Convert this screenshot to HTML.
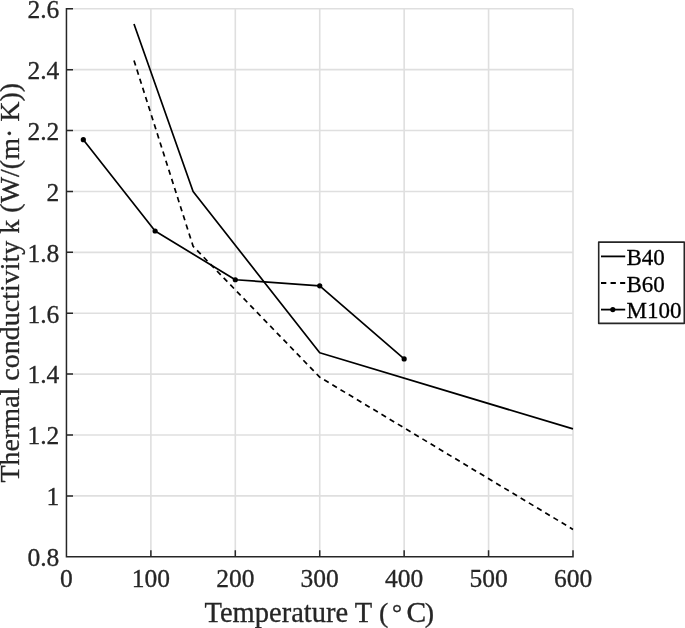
<!DOCTYPE html>
<html><head><meta charset="utf-8"><style>
html,body{margin:0;padding:0;background:#fff;}
svg{display:block;font-family:"Liberation Serif",serif;}
text{stroke:currentColor;stroke-width:0.3px;}
</style></head><body>
<svg width="685" height="628" viewBox="0 0 685 628">
<path d="M150.88 8.75V556.80 M235.30 8.75V556.80 M319.72 8.75V556.80 M404.15 8.75V556.80 M488.57 8.75V556.80 M573.00 8.75V556.80 M66.45 495.91H573.00 M66.45 435.01H573.00 M66.45 374.12H573.00 M66.45 313.22H573.00 M66.45 252.33H573.00 M66.45 191.44H573.00 M66.45 130.54H573.00 M66.45 69.65H573.00 M66.45 8.75H573.00" stroke="#dfdfdf" stroke-width="1.6" fill="none"/>
<polyline points="133.99,23.98 193.09,191.44 319.72,352.81 573.00,428.92" stroke="#000" stroke-width="1.7" fill="none" stroke-linejoin="round"/>
<polyline points="133.99,60.51 193.09,246.24 319.72,377.16 573.00,529.40" stroke="#000" stroke-width="1.7" fill="none" stroke-dasharray="5.3 4.255" stroke-linejoin="round"/>
<polyline points="83.34,139.68 155.10,231.02 235.30,279.73 319.72,285.82 404.15,358.89" stroke="#000" stroke-width="1.7" fill="none" stroke-linejoin="round"/>
<circle cx="83.34" cy="139.68" r="2.6" fill="#000"/>
<circle cx="155.10" cy="231.02" r="2.6" fill="#000"/>
<circle cx="235.30" cy="279.73" r="2.6" fill="#000"/>
<circle cx="319.72" cy="285.82" r="2.6" fill="#000"/>
<circle cx="404.15" cy="358.89" r="2.6" fill="#000"/>
<path d="M66.45 8.75V556.80H573.00 M150.88 556.80v-5.8 M235.30 556.80v-5.8 M319.72 556.80v-5.8 M404.15 556.80v-5.8 M488.57 556.80v-5.8 M573.00 556.80v-5.8 M66.45 556.80h5.8 M66.45 495.91h5.8 M66.45 435.01h5.8 M66.45 374.12h5.8 M66.45 313.22h5.8 M66.45 252.33h5.8 M66.45 191.44h5.8 M66.45 130.54h5.8 M66.45 69.65h5.8 M66.45 8.75h5.8" stroke="#262626" stroke-width="1.5" fill="none" stroke-linecap="square"/>
<g font-size="25.5" fill="#262626" color="#262626"><text x="66.45" y="586.60" text-anchor="middle">0</text><text x="150.88" y="586.60" text-anchor="middle">100</text><text x="235.30" y="586.60" text-anchor="middle">200</text><text x="319.72" y="586.60" text-anchor="middle">300</text><text x="404.15" y="586.60" text-anchor="middle">400</text><text x="488.57" y="586.60" text-anchor="middle">500</text><text x="573.00" y="586.60" text-anchor="middle">600</text><text x="59.3" y="566.10" text-anchor="end">0.8</text><text x="59.3" y="505.21" text-anchor="end">1</text><text x="59.3" y="444.31" text-anchor="end">1.2</text><text x="59.3" y="383.42" text-anchor="end">1.4</text><text x="59.3" y="322.52" text-anchor="end">1.6</text><text x="59.3" y="261.63" text-anchor="end">1.8</text><text x="59.3" y="200.74" text-anchor="end">2</text><text x="59.3" y="139.84" text-anchor="end">2.2</text><text x="59.3" y="78.95" text-anchor="end">2.4</text><text x="59.3" y="18.05" text-anchor="end">2.6</text></g>
<text y="621.6" font-size="28" fill="#262626" color="#262626"><tspan x="204.5" font-size="28.5">Temperature T</tspan> <tspan x="379" y="622.3">(</tspan> <tspan x="392.1" y="620.6" font-size="25">°</tspan> <tspan x="406.4" y="622" font-size="29.5">C</tspan><tspan x="424.7" y="622.3">)</tspan></text>
<text transform="translate(19.1,282.68) rotate(-90)" x="0" y="0" text-anchor="middle" font-size="28" fill="#262626" color="#262626">Thermal conductivity k (W/(m· K))</text>
<rect x="598.7" y="242.1" width="85.59999999999991" height="81.29999999999998" fill="#fff" stroke="#262626" stroke-width="1.6" stroke-linejoin="round"/><path d="M601 256.4H625.2" stroke="#000" stroke-width="1.8"/><path d="M601 283.0H625.2" stroke="#000" stroke-width="1.8" stroke-dasharray="5.3 4.255"/><path d="M601 309.6H625.2" stroke="#000" stroke-width="1.8"/><circle cx="612.8" cy="309.6" r="2.6"/><text x="626.5" y="265.20" font-size="23" fill="#000" color="#000">B40</text><text x="626.5" y="291.80" font-size="23" fill="#000" color="#000">B60</text><text x="626.5" y="318.40" font-size="23" fill="#000" color="#000">M100</text>
</svg>
</body></html>
